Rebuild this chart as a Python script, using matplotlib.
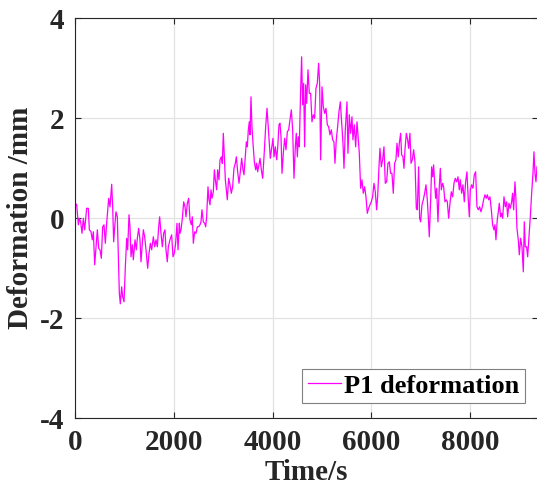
import numpy as np
import matplotlib
matplotlib.use("Agg")
import matplotlib.pyplot as plt

# P1 deformation record (time in s, deformation in mm)
time_s = [
    0, 28, 48, 62, 82, 109, 136, 163, 190, 230, 264, 285, 318, 345, 366, 393,
    420, 447, 474, 501, 528, 555, 582, 609, 636, 677, 704, 738, 758, 778, 805,
    825, 852, 873, 893, 913, 940, 961, 988, 1015, 1042, 1062, 1089, 1109, 1130,
    1157, 1177, 1211, 1238, 1258, 1285, 1312, 1332, 1359, 1380, 1407, 1434,
    1468, 1495, 1522, 1549, 1583, 1610, 1637, 1664, 1691, 1711, 1738, 1765,
    1792, 1819, 1839, 1866, 1887, 1920, 1954, 1981, 2008, 2035, 2062, 2083,
    2110, 2123, 2144, 2171, 2198, 2225, 2245, 2272, 2299, 2326, 2353, 2373,
    2394, 2421, 2448, 2475, 2502, 2529, 2549, 2569, 2596, 2624, 2644, 2664,
    2691, 2711, 2732, 2752, 2772, 2799, 2820, 2840, 2867, 2887, 2914, 2935,
    2962, 2982, 3002, 3022, 3043, 3063, 3083, 3110, 3137, 3164, 3191, 3218,
    3245, 3266, 3293, 3320, 3347, 3374, 3401, 3421, 3448, 3469, 3489, 3509,
    3529, 3543, 3563, 3583, 3604, 3631, 3658, 3678, 3698, 3725, 3746, 3773,
    3800, 3827, 3861, 3888, 3908, 3928, 3955, 3982, 4009, 4030, 4057, 4084,
    4104, 4131, 4151, 4172, 4192, 4219, 4246, 4273, 4300, 4327, 4354, 4381,
    4408, 4435, 4462, 4482, 4503, 4523, 4543, 4570, 4590, 4611, 4631, 4651,
    4672, 4692, 4719, 4746, 4773, 4800, 4827, 4854, 4881, 4908, 4935, 4955,
    4976, 5003, 5030, 5057, 5084, 5111, 5138, 5165, 5192, 5219, 5246, 5266,
    5293, 5320, 5347, 5375, 5402, 5429, 5449, 5476, 5510, 5530, 5557, 5584,
    5611, 5631, 5658, 5686, 5713, 5740, 5760, 5787, 5814, 5841, 5868, 5895,
    5922, 5949, 5976, 6003, 6030, 6057, 6084, 6111, 6132, 6159, 6179, 6206,
    6233, 6260, 6287, 6314, 6341, 6368, 6395, 6422, 6449, 6476, 6503, 6524,
    6551, 6571, 6598, 6618, 6645, 6666, 6686, 6713, 6740, 6760, 6787, 6808,
    6835, 6862, 6889, 6916, 6936, 6963, 6983, 7004, 7031, 7058, 7085, 7112,
    7139, 7159, 7179, 7207, 7227, 7247, 7267, 7288, 7308, 7328, 7355, 7382,
    7403, 7423, 7450, 7470, 7497, 7524, 7545, 7572, 7599, 7626, 7653, 7680,
    7707, 7734, 7761, 7788, 7808, 7835, 7862, 7889, 7916, 7943, 7970, 7991,
    8011, 8038, 8065, 8092, 8119, 8146, 8173, 8200, 8227, 8254, 8281, 8308,
    8335, 8356, 8383, 8410, 8437, 8464, 8491, 8511, 8531, 8558, 8579, 8599,
    8626, 8646, 8667, 8694, 8721, 8748, 8768, 8795, 8822, 8849, 8869, 8890,
    8917, 8937, 8957, 8984, 9005, 9032, 9059, 9086, 9106, 9126, 9153, 9174,
    9201, 9228, 9255, 9282, 9302, 9322, 9343, 9363,
]
deform_mm = [
    0.30, 0.27, 0.03, -0.13, 0.00, -0.07, -0.30, 0.00, -0.23, 0.20, 0.20, -0.23,
    -0.27, -0.43, -0.27, -0.93, -0.57, -0.23, -0.60, -0.63, -0.80, -0.17, -0.13,
    -0.50, -0.10, 0.40, 0.23, 0.68, 0.23, -0.47, -0.10, 0.13, 0.03, -0.77,
    -1.50, -1.71, -1.37, -1.57, -1.67, -0.97, -0.40, -0.63, 0.07, -0.17, -0.77,
    -0.53, -0.83, -0.43, -0.63, -0.40, -0.20, -0.43, -0.87, -0.50, -0.23, -0.37,
    -0.63, -1.00, -0.70, -0.50, -0.63, -0.37, -0.57, -0.43, -0.57, -0.17, 0.03,
    -0.30, -0.57, -0.30, -0.23, -0.63, -0.87, -0.57, -0.43, -0.33, -0.77, -0.70,
    -0.50, -0.10, -0.63, -0.10, -0.30, -0.23, 0.00, 0.33, 0.23, 0.03, 0.30,
    0.40, -0.03, -0.13, 0.03, -0.50, -0.27, -0.30, -0.17, -0.17, -0.13, -0.07,
    0.17, -0.07, -0.10, -0.17, 0.03, 0.63, 0.37, 0.27, 0.57, 0.40, 0.53, 0.97,
    0.77, 0.57, 0.97, 0.77, 1.17, 1.23, 1.10, 1.70, 1.23, 0.77, 0.57, 0.37,
    0.80, 0.67, 0.50, 0.63, 1.00, 1.10, 1.23, 0.93, 0.70, 0.93, 1.20, 0.97,
    0.87, 1.23, 1.53, 1.43, 1.77, 1.93, 1.67, 2.43, 1.83, 1.50, 1.13, 0.97,
    1.10, 0.93, 1.07, 1.20, 0.97, 0.80, 1.23, 1.83, 2.20, 1.90, 1.57, 1.20,
    1.40, 1.60, 1.23, 1.43, 1.17, 1.40, 1.87, 1.90, 1.63, 0.90, 1.30, 1.60,
    1.37, 1.73, 1.77, 1.97, 2.17, 1.77, 0.80, 1.43, 1.70, 1.23, 1.63, 1.43,
    2.57, 3.23, 2.27, 2.70, 1.43, 2.67, 2.30, 2.97, 2.50, 2.50, 1.93, 2.07,
    2.00, 2.60, 2.70, 3.10, 2.70, 1.17, 2.63, 2.23, 2.10, 2.20, 1.87, 1.83,
    1.67, 1.77, 1.57, 1.53, 1.10, 1.57, 1.83, 2.13, 2.33, 1.90, 1.50, 1.00,
    1.77, 2.33, 1.30, 2.07, 1.70, 2.03, 1.57, 1.87, 1.43, 1.93, 1.57, 1.30,
    0.60, 0.77, 0.50, 0.63, 0.43, 0.10, 0.20, 0.27, 0.33, 0.43, 0.70, 0.53,
    0.17, 0.43, 1.03, 1.40, 1.03, 1.17, 1.43, 0.70, 0.73, 1.10, 1.13, 0.90,
    0.90, 0.50, 1.10, 1.17, 1.50, 1.23, 1.50, 1.70, 1.27, 1.23, 1.00, 1.37,
    1.70, 1.57, 1.40, 1.70, 1.10, 1.17, 1.37, 1.13, 0.20, 0.17, 1.03, 0.00,
    -0.07, 0.27, 0.37, 0.50, 0.67, 0.37, 0.03, -0.37, 0.37, 1.03, 0.83, 1.07,
    0.70, 0.40, 0.60, -0.07, 0.63, 1.00, 0.57, 0.70, 0.63, 0.33, 0.37, 0.33,
    0.00, 0.30, 0.53, 0.43, 0.70, 0.80, 0.73, 0.83, 0.57, 0.77, 0.50, 0.67,
    0.33, 0.73, 0.93, 0.37, 0.03, 0.57, 0.67, 0.60, 0.87, 0.93, 0.23, 0.17,
    0.23, 0.13, 0.23, 0.37, 0.47, 0.40, 0.47, 0.37, 0.43, 0.17, -0.13, -0.23,
    -0.13, -0.43, -0.03, 0.13, 0.30, 0.03, 0.10, 0.00, 0.43, 0.23, 0.33, 0.03,
    0.30, 0.20, 0.33, 0.50, 0.17, 0.73, 0.37, -0.20, -0.43, -0.73, -0.40,
    -0.57, -1.07, -0.07, -0.57, -0.57, -0.77, -0.37, 0.03, 0.50, 0.90, 1.33,
    0.90, 0.73, 1.03,
]

x_ticks = [0, 2000, 4000, 6000, 8000]
y_ticks = [-4, -2, 0, 2, 4]

plt.rcParams['font.family'] = ['Liberation Serif', 'DejaVu Serif']
plt.rcParams['font.weight'] = 'bold'
plt.rcParams['axes.unicode_minus'] = False

fig = plt.figure(figsize=(5.37, 4.91), dpi=100)
# axes box: right edge sits just past the image border, like the reference
ax = fig.add_axes([75.3 / 537, 72.7 / 491, 462.7 / 537, 400 / 491])

ax.plot(time_s, deform_mm, color='#ff00ff', lw=0.9, label='P1 deformation')

ax.set_xlim(0, 9384)
ax.set_ylim(-4, 4)
ax.set_xticks(x_ticks)
ax.set_yticks(y_ticks)
ax.grid(True, color='#e3e3e3', lw=0.9)
ax.set_axisbelow(True)

ax.tick_params(direction='in', length=4, width=0.8, top=True, right=True,
               labelsize=21, pad=8, colors='#262626')
for lab in ax.get_xticklabels() + ax.get_yticklabels():
    lab.set_fontweight('bold')
for sp in ax.spines.values():
    sp.set_linewidth(0.8)
    sp.set_color('#262626')

ax.set_xlabel('Time/s', fontsize=21, fontweight='bold', labelpad=2, color='#262626')
ax.set_ylabel('Deformation /mm', fontsize=21, fontweight='bold', labelpad=4, color='#262626')

leg = ax.legend(loc='lower right', bbox_to_anchor=(525 / 537, (491 - 403) / 491),
                bbox_transform=fig.transFigure, fancybox=False, framealpha=1,
                edgecolor='#808080', prop={'size': 19, 'weight': 'bold'},
                handlelength=1.25, handletextpad=0.15, borderpad=0.2,
                borderaxespad=0)
leg.get_frame().set_linewidth(0.8)

fig.savefig('out.png', dpi=100)
